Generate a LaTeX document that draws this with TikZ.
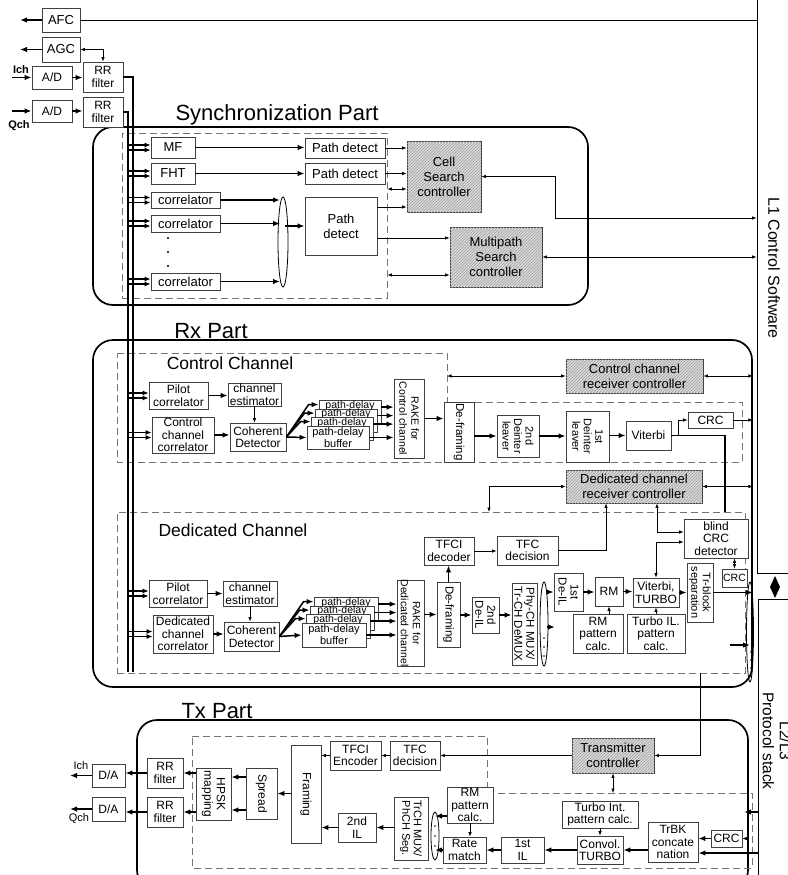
\documentclass[tikz,border=0pt]{standalone}
\usepackage{fontspec}
\setmainfont{Liberation Sans}
\usetikzlibrary{arrows.meta, patterns, shapes.geometric}
\tikzset{
  box at/.style args={#1,#2,#3,#4}{at={({(#1+#3)/2},{(#2+#4)/2})},
    minimum width={#3-#1}, minimum height={#4-#2}},
  blk/.style={draw=black!75, fill=white, line width=0.8pt, inner sep=0pt, align=center,
    font=\fontsize{12}{12.5}\selectfont},
  bigblk/.style={blk, font=\fontsize{13}{15}\selectfont},
  smlblk/.style={blk, font=\fontsize{10.5}{11}\selectfont},
  ctlblk/.style={blk, font=\fontsize{13}{15}\selectfont, fill=gray!30,
    postaction={pattern=north east lines, pattern color=gray!75}},
  rot/.style={rotate=-90, align=center, inner sep=0pt, font=\fontsize{11.5}{12}\selectfont},
  dlbl/.style={inner sep=0.5pt, font=\fontsize{10.5}{10.5}\selectfont},
  part/.style={draw, line width=1.7pt, rounded corners=20pt, inner sep=0pt},
  frame/.style={draw, line width=0.8pt, inner sep=0pt},
  dsh/.style={draw=black!55, line width=0.9pt, dash pattern=on 7pt off 4pt},
  ttl/.style={font=\fontsize{22}{22}\selectfont},
  subttl/.style={font=\fontsize{17.5}{18}\selectfont},
  thk/.style={-{Latex[length=7pt, width=5.5pt]}, line width=1.5pt},
  feed/.style={-{Latex[length=6pt, width=5pt]}, line width=1.1pt},
  tarr/.style={-{Latex[length=4.5pt, width=3.5pt]}, line width=0.7pt},
  dbl/.style={{Latex[length=4.5pt, width=3.5pt]}-{Latex[length=4.5pt, width=3.5pt]}, line width=0.7pt},
  bus/.style={line width=1.4pt},
  comb/.style={draw, ellipse, line width=0.8pt, inner sep=0pt},
}

\begin{document}
\begin{tikzpicture}[x=1pt, y=-1pt]
\useasboundingbox (0,0) rectangle (787,875);

% parts and frames
\node[part, box at={93,127,588,305}] (syncbox) {};
\node[part, box at={93,340,752,687}] (rxbox) {};
\node[part, box at={137,720,748,890}] (txbox) {};
\node[ttl] (synct) at (277,115) {Synchronization Part};
\node[ttl] (rxt) at (211,331) {Rx Part};
\node[ttl] (txt) at (217,711) {Tx Part};

\node[frame, box at={757,-20,830,573}] (lone) {};
\node[frame, box at={758,599,830,900}] (ltwo) {};
\node[rotate=-90, font=\fontsize{16}{16}\selectfont] (lonet) at (774,268) {L1 Control Software};
\node[rotate=-90, align=center, font=\fontsize{15.5}{17}\selectfont] (ltwot) at (777,741) {L2/L3\\Protocol stack};
\fill (775,576) -- (780,587) -- (775,598) -- (770,587) -- cycle;

\node[dsh, inner sep=0pt, box at={122,133,387,298}] (syncdash) {};
\draw[dsh] (117,353) -- (447,353) -- (447,402) -- (742,402) -- (742,462) -- (117,462) -- cycle;
\node[dsh, inner sep=0pt, box at={117,512,745,673}] (dcdash) {};
\draw[dsh] (192,736) -- (487,736) -- (487,793) -- (752,793) -- (752,868) -- (192,868) -- cycle;
\node[subttl] (cct) at (230,363) {Control Channel};
\node[subttl] (dct) at (233,530) {Dedicated Channel};

% front end
\node[bigblk, box at={42,8,80,32}] (afc) {AFC};
\node[bigblk, box at={42,37,80,62}] (agc) {AGC};
\node[blk, box at={32,66,72,89}] (ad1) {A/D};
\node[blk, box at={83,62,123,92}] (rr1) {RR\\filter};
\node[blk, box at={32,100,72,122}] (ad2) {A/D};
\node[blk, box at={83,97,123,127}] (rr2) {RR\\filter};
\node[font=\fontsize{11}{11}\selectfont\bfseries] (ichl) at (21,70) {Ich};
\node[font=\fontsize{11}{11}\selectfont\bfseries] (qchl) at (19,126) {Qch};
\coordinate (afcout) at (20,20);
\coordinate (agcout) at (20,49.5);
\coordinate (ichin) at (12,77.5);
\coordinate (qchin) at (12,111);
\coordinate (busA) at (133,672);
\coordinate (busB) at (128,672);

% synchronization part
\node[bigblk, box at={151,137,195,158}] (mf) {MF};
\node[bigblk, box at={151,163,195,184}] (fht) {FHT};
\node[bigblk, box at={151,192,220,208}] (cor1) {correlator};
\node[bigblk, box at={151,215,220,232}] (cor2) {correlator};
\node[bigblk, box at={151,273,220,290}] (cor3) {correlator};
\foreach \y in {238,252,266} \fill (168,\y) circle (1.2);
\node[comb, minimum width=10, minimum height=90] (combs) at (283,242) {};
\node[bigblk, box at={305,138,385,158}] (pd1) {Path detect};
\node[bigblk, box at={305,163,385,184}] (pd2) {Path detect};
\node[bigblk, box at={305,197,377,255}] (pd3) {Path\\detect};
\node[ctlblk, box at={407,141,481,212}] (cellctl) {Cell\\Search\\controller};
\node[ctlblk, box at={450,227,542,287}] (mpctl) {Multipath\\Search\\controller};
\coordinate (cs) at (555,218);

% control channel
\node[blk, box at={149,382,208,409}] (pilc) {Pilot\\correlator};
\node[blk, box at={228,383,281,406}] (chec) {channel\\estimator};
\node[blk, box at={152,417,214,453}] (ccor) {Control\\channel\\correlator};
\node[blk, box at={230,423,286,451}] (cohc) {Coherent\\Detector};
\foreach \k in {3,2,1} {
  \pgfmathsetmacro\xa{307+4*\k}\pgfmathsetmacro\ya{426-8.5*\k}
  \pgfmathsetmacro\xb{369+4*\k}\pgfmathsetmacro\yb{449-8.5*\k}
  \node[blk, box at={\xa,\ya,\xb,\yb}] (pdc\k) {};
  \node[dlbl, anchor=north] at (pdc\k.north) {path-delay};
}
\node[blk, font=\fontsize{11}{12}\selectfont, box at={307,426,369,449}] (pdc0) {path-delay\\buffer};
\node[blk, box at={394,379,424,458}] (rakec) {};
\node[rot, font=\fontsize{10.5}{12}\selectfont] at (rakec) {RAKE for\\Control channel};
\node[blk, box at={444,402,474,462}] (dfc) {};
\node[rot] at (dfc) {De-framing};
\node[blk, box at={497,415,539,457}] (di2c) {};
\node[rot, font=\fontsize{11}{11.5}\selectfont] at (di2c) {2nd\\Deinter\\leaver};
\node[blk, box at={566,411,609,462}] (di1c) {};
\node[rot, font=\fontsize{11}{11.5}\selectfont] at (di1c) {1st\\Deinter\\leaver};
\node[blk, box at={626,421,671,450}] (vitc) {Viterbi};
\node[blk, box at={688,412,733,428}] (crcc) {CRC};
\node[ctlblk, box at={566,359,703,393}] (ccrc) {Control channel\\receiver controller};
\coordinate (ccstep) at (447,376);

% dedicated channel
\node[blk, box at={149,580,207,607}] (pild) {Pilot\\correlator};
\node[blk, box at={223,581,277,606}] (ched) {channel\\estimator};
\node[blk, box at={153,615,213,653}] (dcor) {Dedicated\\channel\\correlator};
\node[blk, box at={224,622,279,651}] (cohd) {Coherent\\Detector};
\foreach \k in {3,2,1} {
  \pgfmathsetmacro\xa{302+4*\k}\pgfmathsetmacro\ya{623-8.5*\k}
  \pgfmathsetmacro\xb{366+4*\k}\pgfmathsetmacro\yb{647-8.5*\k}
  \node[blk, box at={\xa,\ya,\xb,\yb}] (pdd\k) {};
  \node[dlbl, anchor=north] at (pdd\k.north) {path-delay};
}
\node[blk, font=\fontsize{11}{12}\selectfont, box at={302,623,366,647}] (pdd0) {path-delay\\buffer};
\node[blk, box at={397,580,424,666}] (raked) {};
\node[rot, font=\fontsize{10.5}{12}\selectfont] at (raked) {RAKE for\\Dedicated channel};
\node[blk, box at={437,582,460,647}] (dfd) {};
\node[rot] at (dfd) {De-framing};
\node[blk, box at={424,537,474,565}] (tfcid) {TFCI\\decoder};
\node[blk, box at={497,536,558,565}] (tfcd) {TFC\\decision};
\node[blk, box at={472,597,499,633}] (di2d) {};
\node[rot] at (di2d) {2nd\\De-IL};
\node[blk, box at={512,583,537,665}] (dmux) {};
\node[rot] at (dmux) {Phy-CH MUX/\\Tr-CH DeMUX};
\node[comb, minimum width=8, minimum height=84] (dcomb) at (544,624) {};
\foreach \y in {638,647,656} \fill (544,\y) circle (0.9);
\node[blk, box at={554,573,583,611}] (de1) {};
\node[rot] at (de1) {1st\\De-IL};
\node[blk, box at={595,577,623,606}] (rmd) {RM};
\node[blk, box at={573,614,623,653}] (rmpd) {RM\\pattern\\calc.};
\node[blk, box at={633,578,679,607}] (vtd) {Viterbi,\\TURBO};
\node[blk, box at={627,614,685,653}] (tilp) {Turbo IL.\\pattern\\calc.};
\node[blk, box at={687,563,713,622}] (trsep) {};
\node[rot, font=\fontsize{11}{11.5}\selectfont] at (trsep) {Tr-block\\separation};
\node[blk, box at={684,519,748,558}] (bcrc) {blind\\CRC\\detector};
\node[smlblk, box at={722,569,747,587}] (scrc) {CRC};
\node[ctlblk, box at={566,470,702,503}] (dcrc) {Dedicated channel\\receiver controller};
\node[comb, minimum width=7, minimum height=100] (rcomb) at (750,632) {};
\foreach \y in {652,660,668,676} \fill (751,\y) circle (0.8);
\coordinate (dtop) at (489,512);
\coordinate (stub1) at (555,627);
\coordinate (stub2) at (730,645);
\coordinate (dbot) at (700,673);

% tx part
\node[ctlblk, box at={572,738,654,773}] (txctl) {Transmitter\\controller};
\node[blk, box at={390,741,440,770}] (tfct) {TFC\\decision};
\node[blk, box at={330,741,381,770}] (tfcie) {TFCI\\Encoder};
\node[blk, box at={291,745,321,843}] (frm) {};
\node[rot, font=\fontsize{12}{12}\selectfont] at (frm) {Framing};
\node[blk, box at={246,768,277,819}] (spr) {};
\node[rot, font=\fontsize{12}{12}\selectfont] at (spr) {Spread};
\node[blk, box at={196,768,231,820}] (hpsk) {};
\node[rot, font=\fontsize{12}{12.5}\selectfont] at (hpsk) {HPSK\\mapping};
\node[blk, box at={147,758,183,788}] (rrt1) {RR\\filter};
\node[blk, box at={147,797,183,827}] (rrt2) {RR\\filter};
\node[blk, box at={92,764,125,787}] (da1) {D/A};
\node[blk, box at={92,797,125,821}] (da2) {D/A};
\node[font=\fontsize{11}{11}\selectfont] (ichtl) at (81,766) {Ich};
\node[font=\fontsize{11}{11}\selectfont] (qchtl) at (79,819) {Qch};
\coordinate (ichout) at (70,775.5);
\coordinate (qchout) at (70,809);
\node[blk, box at={338,813,376,842}] (il2) {2nd\\IL};
\node[blk, box at={394,797,428,860}] (tmux) {};
\node[rot, font=\fontsize{11}{11.5}\selectfont] at (tmux) {TrCH MUX/\\PhCH Seg.};
\node[comb, minimum width=8, minimum height=48] (tcomb) at (435,836) {};
\foreach \y in {826,836,846} \fill (435,\y) circle (0.9);
\node[blk, box at={447,787,493,823}] (rmpt) {RM\\pattern\\calc.};
\node[blk, box at={443,837,486,863}] (rmt) {Rate\\match};
\node[blk, box at={501,837,544,863}] (il1) {1st\\IL};
\node[blk, box at={562,801,638,828}] (tipc) {Turbo Int.\\pattern calc.};
\node[blk, box at={577,836,623,864}] (conv) {Convol.\\TURBO};
\node[blk, box at={648,822,698,862}] (trbk) {TrBK\\concate\\nation};
\node[blk, box at={711,830,742,847}] (crct) {CRC};
\coordinate (tstep) at (613,793);
\coordinate (txin) at (744,812);

% connectors: front end
\draw[thk] (afc.west) -- (afcout);
\draw[thk] (agc.west) -- (agcout);
\draw[line width=0.8pt] (afc.east) -- (afc.east -| lone.west);
\draw[dbl] (agc.east) -| (rr1.north);
\draw[thk] (ichin) -- (ad1.west);
\draw[thk] (qchin) -- (ad2.west);
\draw[thk] (ad1) -- (ad1 -| rr1.west);
\draw[thk] (ad2) -- (ad2 -| rr2.west);
\draw[bus] (rr1.east) -| (busA);
\draw[bus] (rr2.east) -| (busB);
\foreach \t in {mf,fht,cor1,cor2,cor3,pilc,ccor,pild,dcor} {
  \draw[feed] ([yshift=2.5]\t.west -| busB) -- ([yshift=2.5]\t.west);
  \draw[feed] ([yshift=-2.5]\t.west -| busB) -- ([yshift=-2.5]\t.west);
}

% connectors: synchronization
\draw[thk] (mf) -- (mf -| pd1.west);
\draw[thk] (fht) -- (fht -| pd2.west);
\foreach \t in {cor1,cor2,cor3}
  \draw[thk, shorten >=3pt] (\t.east) -- (\t.east -| combs.center);
\draw[thk, shorten <=2pt] (combs.center |- pd3) -- (pd3.west);
\draw[tarr] (pd1) -- (pd1 -| cellctl.west);
\draw[tarr] (pd2) -- (pd2 -| cellctl.west);
\draw[dbl] ([yshift=-12.5]cellctl.west -| syncdash.east) -- ([yshift=-12.5]cellctl.west);
\draw[tarr] ([yshift=19]pd3.east) -- ([yshift=19]pd3.east -| cellctl.west);
\draw[tarr] ([yshift=-12]pd3.east) -- ([yshift=-12]pd3.east -| mpctl.west);
\draw[dbl] ([yshift=-18]mpctl.west -| syncdash.east) -- ([yshift=-18]mpctl.west);
\draw[dbl] (cellctl.east) -| (cs) -- (cs -| lone.west);
\draw[dbl] (mpctl.east) -- (mpctl.east -| lone.west);

% connectors: control channel
\draw[thk] (pilc) -- (pilc -| chec.west);
\draw[tarr] (chec.south) -- (chec.south |- cohc.north);
\draw[thk] (ccor) -- (ccor -| cohc.west);
\foreach \k in {3,2,1} {
  \draw[thk] (cohc.east) -- ([xshift=-10, yshift=-4.5]pdc\k.north west) -- ([yshift=-4.5]pdc\k.north west);
  \draw[thk] ([yshift=-7]pdc\k.north east) -- ([yshift=-7]pdc\k.north east -| rakec.west);
}
\draw[thk] (cohc.east) -- (pdc0.west);
\draw[thk] (pdc0.east) -- (pdc0.east -| rakec.west);
\draw[thk] (rakec.east) -- (rakec.east -| dfc.west);
\draw[thk] (dfc.east |- di2c) -- (di2c.west);
\draw[thk] (di2c) -- (di2c -| di1c.west);
\draw[thk] (di1c.east |- vitc) -- (vitc.west);
\draw[tarr] (vitc.east) -- ++(7,0) |- (crcc.west);
\draw[line width=1.5pt] (vitc.east) -| ([xshift=9, yshift=7]bcrc.north);
\draw[tarr] (crcc.east) -- (crcc.east -| rxbox.east);
\draw[dbl] (ccstep) -- (ccrc.west);
\draw[dbl] (ccrc.east) -- (ccrc.east -| rxbox.east);

% connectors: dedicated channel
\draw[thk] (pild) -- (pild -| ched.west);
\draw[tarr] (ched.south) -- (ched.south |- cohd.north);
\draw[thk] (dcor) -- (dcor -| cohd.west);
\foreach \k in {3,2,1} {
  \draw[thk] (cohd.east) -- ([xshift=-10, yshift=-4.5]pdd\k.north west) -- ([yshift=-4.5]pdd\k.north west);
  \draw[thk] ([yshift=-7]pdd\k.north east) -- ([yshift=-7]pdd\k.north east -| raked.west);
}
\draw[thk] (cohd.east) -- (pdd0.west);
\draw[thk] (pdd0.east) -- (pdd0.east -| raked.west);
\draw[thk] (raked.east |- dfd) -- (dfd.west);
\draw[thk] (dfd.north) -- (dfd.north |- tfcid.south);
\draw[tarr] (tfcid) -- (tfcid -| tfcd.west);
\draw[tarr] (tfcd.east) -| ([xshift=-28]dcrc.south);
\draw[dbl] (dtop) |- (dcrc.west);
\draw[dbl] (dcrc.east) -- (dcrc.east -| rxbox.east);
\draw[dbl] ([xshift=23]dcrc.south) |- ([yshift=6.5]bcrc.west);
\draw[dbl] (vtd.north) |- ([yshift=-3.5]bcrc.west);
\draw[thk] (dfd.east |- di2d) -- (di2d.west);
\draw[thk] (di2d) -- (di2d -| dmux.west);
\draw[thk, shorten <=3pt] (dcomb.center |- de1) -- (de1.west);
\draw[thk, shorten <=3pt] (stub1 -| dcomb.center) -- (stub1);
\draw[thk] (de1) -- (de1 -| rmd.west);
\draw[thk] (rmd) -- (rmd -| vtd.west);
\draw[thk] (vtd) -- (vtd -| trsep.west);
\draw[tarr] (rmd.south |- rmpd.north) -- (rmd.south);
\draw[tarr] (vtd.south |- tilp.north) -- (vtd.south);
\draw[dbl] (scrc.north) -- (scrc.north |- bcrc.south);
\draw[thk] (trsep.east) -- (trsep.east -| rxbox.east);
\draw[thk] (stub2) -- (stub2 -| rcomb.center);

% connectors: tx part
\draw[tarr] (dbot) |- (txctl.east);
\draw[tarr] (txctl) -- (txctl -| tfct.east);
\draw[tarr] (tfct) -- (tfct -| tfcie.east);
\draw[tarr] (tfcie.west) -- (tfcie.west -| frm.east);
\draw[dbl] (txctl.south) -- (tstep);
\draw[thk] (frm.west |- spr) -- (spr.east);
\draw[thk] ([yshift=16.5]spr.west) -- ([yshift=16.5]spr.west -| hpsk.east);
\draw[thk] ([yshift=-16.5]spr.west) -- ([yshift=-16.5]spr.west -| hpsk.east);
\draw[thk] (hpsk.west |- rrt1) -- (rrt1.east);
\draw[thk] (hpsk.west |- rrt2) -- (rrt2.east);
\draw[thk] (rrt1) -- (rrt1 -| da1.east);
\draw[thk] (rrt2) -- (rrt2 -| da2.east);
\draw[thk] (da1.west) -- (ichout);
\draw[thk] (da2.west) -- (qchout);
\draw[thk] (il2) -- (il2 -| frm.east);
\draw[thk] (tmux.west |- il2) -- (il2.east);
\draw[thk] ([yshift=-11]rmpt.west) -- ([yshift=-11]rmpt.west -| tcomb.center);
\draw[thk] (rmt.west) -- (rmt.west -| tcomb.center);
\draw[tarr] (rmpt.south) -- (rmpt.south |- rmt.north);
\draw[thk] (il1) -- (il1 -| rmt.east);
\draw[thk] (conv) -- (conv -| il1.east);
\draw[thk] (trbk.west |- conv) -- (conv.east);
\draw[tarr] (tipc.south) -- (tipc.south |- conv.north);
\draw[thk] (crct) -- (crct -| trbk.east);
\draw[thk] ([yshift=-11]trbk.east -| ltwo.west) -- ([yshift=-11]trbk.east);
\draw[tarr] (crct.east -| txbox.east) -- (crct.east);
\draw[thk] (txin -| ltwo.west) -- (txin);
\end{tikzpicture}
\end{document}
